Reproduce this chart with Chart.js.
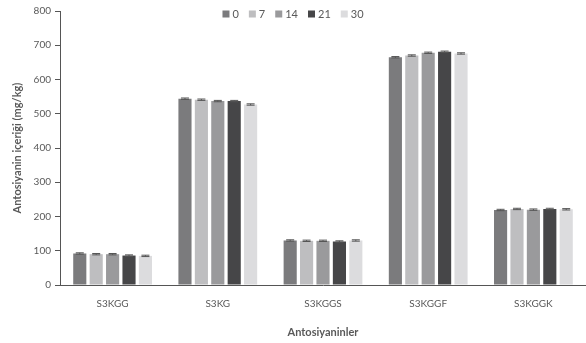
<!DOCTYPE html>
<html>
<head>
<meta charset="utf-8">
<script src="https://cdn.jsdelivr.net/npm/chart.js@4.4.0/dist/chart.umd.min.js"></script>
<style>
  html, body { margin: 0; padding: 0; background: #fff; }
  #wrap { width: 586px; height: 343px; }
</style>
</head>
<body>
<div id="wrap"><canvas id="antoChart" width="586" height="343"></canvas></div>
<script>
// Categories and storage days
const categories = ['S3KGG', 'S3KG', 'S3KGGS', 'S3KGGF', 'S3KGGK'];
const dayLabels = ['0', '7', '14', '21', '30'];

// Values per storage day (mg/kg), one per category
const day0 = [92, 544, 130, 665, 219];
const day7 = [90, 541, 129, 670, 222];
const day14 = [90, 537, 129, 678, 220];
const day21 = [86, 537, 127, 681, 222];
const day30 = [85, 527, 130, 676, 221];

// Error bar sizes
const err0 = [2, 2, 2, 2, 2];
const err7 = [2, 2, 2, 2, 2];
const err14 = [2, 2, 2, 2, 2];
const err21 = [2, 2, 2, 2, 2];
const err30 = [2, 2, 2, 2, 2];

const yTicks = [0, 100, 200, 300, 400, 500, 600, 700, 800];

const seriesValues = [day0, day7, day14, day21, day30];
const seriesErrors = [err0, err7, err14, err21, err30];
const barColors = ['#7b7b7d', '#bebec0', '#9a9a9c', '#464648', '#dcdcde'];

const textGray = '#595959';
const fontFamily = 'Lato, "Open Sans", sans-serif';

// Draw small error bars on top of each bar
const errorBarPlugin = {
    id: 'errorBars',
    afterDatasetsDraw(chart) {
        const ctx = chart.ctx;
        const yScale = chart.scales.y;
        ctx.save();
        ctx.strokeStyle = '#555555';
        ctx.lineWidth = 1;
        chart.data.datasets.forEach((ds, i) => {
            const meta = chart.getDatasetMeta(i);
            meta.data.forEach((bar, j) => {
                const v = ds.data[j];
                const e = ds.errors[j];
                const yHi = yScale.getPixelForValue(v + e);
                const yLo = yScale.getPixelForValue(v - e);
                ctx.beginPath();
                ctx.moveTo(bar.x, yHi);
                ctx.lineTo(bar.x, yLo);
                ctx.moveTo(bar.x - 4, yHi);
                ctx.lineTo(bar.x + 4, yHi);
                ctx.moveTo(bar.x - 4, yLo);
                ctx.lineTo(bar.x + 4, yLo);
                ctx.stroke();
            });
        });
        ctx.restore();
    }
};

// Legend drawn inside the plot, centred along the top like the original
const topLegendPlugin = {
    id: 'topLegend',
    afterDraw(chart) {
        const ctx = chart.ctx;
        const box = 7, gapText = 3, gapItem = 10, yMid = 14;
        ctx.save();
        ctx.font = '11px ' + fontFamily;
        ctx.textBaseline = 'middle';
        const items = chart.data.datasets.map(ds => ({
            text: ds.label,
            color: ds.backgroundColor,
            w: box + gapText + ctx.measureText(ds.label).width
        }));
        const total = items.reduce((s, it) => s + it.w, 0) + gapItem * (items.length - 1);
        let x = chart.width / 2 - total / 2;
        items.forEach(it => {
            ctx.fillStyle = it.color;
            ctx.fillRect(x, yMid - box / 2, box, box);
            ctx.fillStyle = textGray;
            ctx.fillText(it.text, x + box + gapText, yMid + 0.5);
            x += it.w + gapItem;
        });
        ctx.restore();
    }
};

const datasets = seriesValues.map((vals, i) => ({
    label: dayLabels[i],
    data: vals,
    errors: seriesErrors[i],
    backgroundColor: barColors[i],
    borderWidth: 0,
    categoryPercentage: 0.78,
    barPercentage: 0.8
}));

const ctx = document.getElementById('antoChart').getContext('2d');
new Chart(ctx, {
    type: 'bar',
    data: { labels: categories, datasets: datasets },
    plugins: [errorBarPlugin, topLegendPlugin],
    options: {
        responsive: false,
        animation: false,
        layout: { padding: { top: 11, right: 0, left: 7, bottom: 0 } },
        plugins: {
            legend: { display: false },
            tooltip: { enabled: false }
        },
        scales: {
            x: {
                grid: { display: false, drawTicks: false },
                border: { color: '#555555', width: 1 },
                ticks: {
                    color: textGray,
                    padding: 13,
                    font: { family: fontFamily, size: 10 }
                },
                title: {
                    display: true,
                    text: 'Antosiyaninler',
                    color: textGray,
                    padding: { top: 10 },
                    font: { family: fontFamily, size: 11, weight: 'bold' }
                },
                afterFit(scale) { scale.height = 58; }
            },
            y: {
                min: 0,
                max: 800,
                afterBuildTicks(scale) {
                    scale.ticks = yTicks.map(v => ({ value: v }));
                },
                grid: {
                    drawOnChartArea: false,
                    tickLength: 5,
                    color: '#555555'
                },
                border: { color: '#555555', width: 1 },
                ticks: {
                    color: textGray,
                    padding: 4,
                    font: { family: fontFamily, size: 10 }
                },
                title: {
                    display: true,
                    text: 'Antosiyanin içeriği (mg/kg)',
                    color: textGray,
                    padding: { bottom: 4 },
                    font: { family: fontFamily, size: 11, weight: 'bold' }
                },
                afterFit(scale) { scale.width = 53; }
            }
        }
    }
});
</script>
</body>
</html>
